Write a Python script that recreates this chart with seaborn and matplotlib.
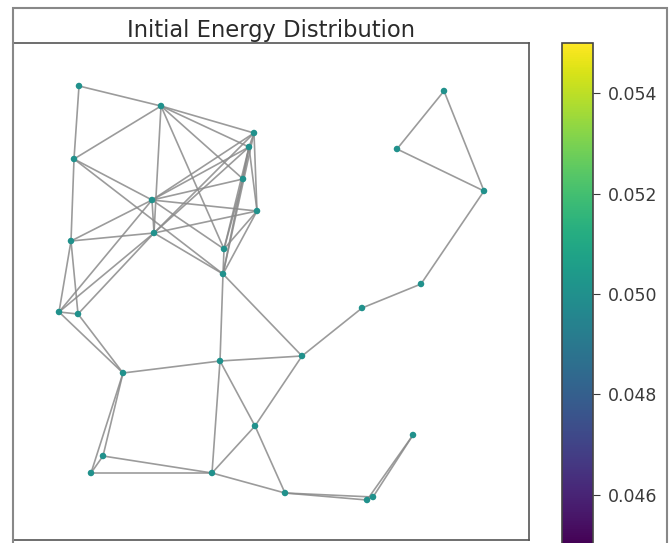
import numpy as np
import pandas as pd
import matplotlib
matplotlib.use("Agg")
import matplotlib.pyplot as plt
from matplotlib.collections import LineCollection
from matplotlib.patches import Rectangle
import matplotlib as mpl
import seaborn as sns

sns.set_style("white")
plt.rcParams['font.family'] = ['DejaVu Sans']

# Node layout positions
node_ids = list(range(30))
node_x = [79, 161, 254, 249, 74, 243, 152, 257, 154, 71,
          224, 223, 59, 78, 123, 220, 302, 362, 255, 413,
          103, 91, 212, 285, 367, 373, 444, 397, 484, 421]
node_y = [457, 437, 410, 396, 384, 364, 343, 332, 310, 302,
          294, 269, 231, 229, 170, 182, 187, 235, 117, 108,
          87, 70, 70, 50, 43, 46, 452, 394, 352, 259]
energy = [0.05] * 30

edge_src = [0, 0, 1, 1, 1, 1, 1, 1,
            4, 4, 4,
            6, 6, 6, 6, 6, 6, 6, 6,
            8, 8, 8, 8, 8, 8, 8,
            9, 9, 12,
            2, 2, 2, 3, 3, 3, 10, 11, 10, 3, 5,
            12, 13, 11, 11, 14, 15, 15, 15, 18, 16, 18, 14, 14, 20, 20, 21, 22, 23, 23, 24, 25, 24,
            16, 17, 29, 28, 28, 26]
edge_dst = [1, 4, 4, 2, 3, 5, 8, 10,
            6, 9, 11,
            8, 2, 3, 5, 7, 10, 9, 12,
            2, 3, 7, 11, 9, 12, 13,
            12, 13, 13,
            3, 7, 11, 11, 10, 7, 7, 7, 11, 5, 10,
            14, 14, 15, 16, 15, 16, 22, 18, 23, 18, 22, 20, 21, 21, 22, 22, 23, 24, 25, 19, 19, 25,
            17, 29, 28, 26, 27, 27]

vmin, vmax = 0.045, 0.055
cbar_ticks = [0.046, 0.048, 0.050, 0.052, 0.054]

W, H = 669, 543
fig = plt.figure(figsize=(W / 100, H / 100), dpi=100)
ax = fig.add_axes([13 / W, 1 - 540 / H, 516 / W, 497 / H])
cax = fig.add_axes([562 / W, 1 - 545 / H, 31 / W, 502 / H])

cmap = mpl.colormaps['viridis']
norm = mpl.colors.Normalize(vmin=vmin, vmax=vmax)

segs = [[(node_x[a], node_y[a]), (node_x[b], node_y[b])] for a, b in zip(edge_src, edge_dst)]
lc = LineCollection(segs, colors='#8a8a8a', linewidths=1.2, alpha=0.85, zorder=1)
ax.add_collection(lc)

df = pd.DataFrame({"x": node_x, "y": node_y, "energy": energy})
sns.scatterplot(data=df, x="x", y="y", color=cmap(norm(0.05)), s=22,
                edgecolor='none', ax=ax, zorder=2, legend=False)

ax.set_xlim(13, 529)
ax.set_ylim(3, 500)
ax.set_xticks([])
ax.set_yticks([])
ax.set_xlabel("")
ax.set_ylabel("")
for sp in ax.spines.values():
    sp.set_color('#555555')
    sp.set_linewidth(1.2)
ax.set_title("Initial Energy Distribution", fontsize=16.3, color='#2a2a2a', pad=4)

sm = mpl.cm.ScalarMappable(norm=norm, cmap=cmap)
cb = fig.colorbar(sm, cax=cax, ticks=cbar_ticks)
cb.ax.yaxis.set_major_formatter(mpl.ticker.FormatStrFormatter('%.3f'))
cb.ax.tick_params(labelsize=12.5, colors='#3a3a3a', length=5, pad=6)
cb.outline.set_edgecolor('#444444')
cb.outline.set_linewidth(1.2)

fig.patches.append(Rectangle((13 / W, -0.02), 654 / W, 1.02 - 8 / H,
                             transform=fig.transFigure, fill=False,
                             edgecolor='#888888', linewidth=1.5, zorder=0))

fig.savefig("out.png", dpi=100)
